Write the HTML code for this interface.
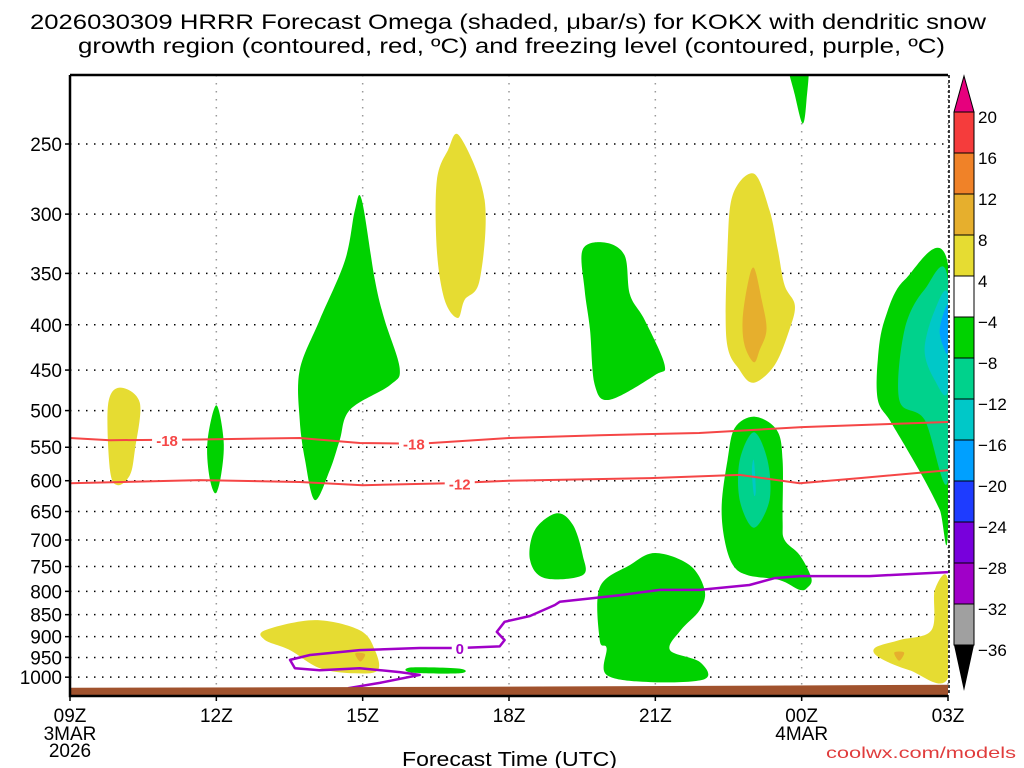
<!DOCTYPE html>
<html><head><meta charset="utf-8"><style>
html,body{margin:0;padding:0;background:#fff;}
svg{display:block;font-family:"Liberation Sans",sans-serif;}
</style></head><body>
<svg id="chart" width="1024" height="768" viewBox="0 0 1024 768" xmlns="http://www.w3.org/2000/svg">
<defs><clipPath id="plotclip"><rect x="70" y="75" width="878" height="620"/></clipPath></defs>
<text x="30" y="29" font-size="21" textLength="956" lengthAdjust="spacingAndGlyphs" fill="#000">2026030309 HRRR Forecast Omega (shaded, μbar/s) for KOKX with dendritic snow</text>
<text x="78" y="53" font-size="21" textLength="867" lengthAdjust="spacingAndGlyphs" fill="#000">growth region (contoured, red, ºC) and freezing level (contoured, purple, ºC)</text>
<g id="grid"></g>
<g id="fills" clip-path="url(#plotclip)"></g>
<g id="lines" clip-path="url(#plotclip)"></g>
<g id="axes"></g>
<g id="cbar"></g>
<text x="402" y="766" font-size="20" textLength="215" lengthAdjust="spacingAndGlyphs">Forecast Time (UTC)</text>
<text x="826" y="758" font-size="16" textLength="190" lengthAdjust="spacingAndGlyphs" fill="#e03c3c">coolwx.com/models</text>
</svg>
<script>
// ---- data ----
const xTickHours = [0,3,6,9,12,15,18];
const xTickLabels = ["09Z","12Z","15Z","18Z","21Z","00Z","03Z"];
const pressureLevels = [250,300,350,400,450,500,550,600,650,700,750,800,850,900,950,1000];
const cbarLevels = [20,16,12,8,4,-4,-8,-12,-16,-20,-24,-28,-32,-36];
const cbarColors = ["#f53c3c","#f08228","#e6af2d","#e6dc32","#ffffff","#00d200","#00d28c","#00c8c8","#00a0ff","#1e3cff","#7800dc","#a000c8","#a0a0a0"];
// shaded regions: [hour since 09Z, hPa]
const yellowA = [[1.02,471],[1.43,490],[1.33,554],[1.23,591],[0.98,607],[0.82,584],[0.78,493]];
const greenB = [[3.0,493],[3.15,540],[3.1,590],[2.98,620],[2.85,590],[2.82,540]];
const greenC = [[5.98,289],[6.25,356],[6.45,395],[6.76,448],[6.56,468],[5.74,499],[5.53,540],[5.33,583],[5.02,631],[4.82,569],[4.71,512],[4.71,450],[5.12,395],[5.64,338],[5.84,297]];
const yellowD = [[7.99,245],[8.5,289],[8.4,356],[8.09,375],[7.95,393],[7.68,375],[7.52,329],[7.52,275],[7.75,254]];
const greenE = [[10.51,329],[10.96,323],[11.37,334],[11.48,370],[11.78,395],[12.19,444],[11.99,456],[11.07,486],[10.76,468],[10.66,405],[10.55,365]];
const yellowF = [[14.02,270],[14.34,297],[14.51,329],[14.65,361],[14.86,380],[14.75,405],[14.45,444],[14.02,465],[13.73,450],[13.46,416],[13.48,329],[13.59,285]];
const orangeF = [[14.02,345],[14.18,375],[14.28,405],[14.14,427],[14.02,441],[13.83,422],[13.79,395],[13.89,361]];
const greenG = [[14.71,200],[15.12,200],[15.1,223],[15.02,237],[14.86,220]];
const greenH = [[18,342],[17.11,356],[16.7,395],[16.56,438],[16.56,486],[16.8,512],[17.11,547],[17.52,599],[17.83,647],[18,682]];
const tealH = [[18,356],[17.52,365],[17.11,405],[17.0,486],[17.52,512],[18,599]];
const cyanH = [[18,370],[17.73,385],[17.52,427],[17.73,462],[18,474]];
const blueH = [[18,380],[17.83,405],[17.93,427],[18,427]];
const greenI = [[14.04,508],[13.63,523],[13.48,569],[13.36,639],[13.42,700],[13.59,747],[13.89,767],[14.55,777],[14.96,797],[15.12,792],[15.2,773],[14.96,728],[14.65,700],[14.61,665],[14.61,569],[14.49,526]];
const tealI = [[14.02,529],[14.3,569],[14.34,631],[14.02,678],[13.73,631],[13.73,569]];
const cyanI = [[14.02,569],[14.06,615],[14.02,622],[13.98,585]];
const greenJ = [[9.98,653],[10.31,673],[10.51,728],[10.51,767],[9.73,773],[9.43,737],[9.53,682]];
const greenK = [[12.0,724],[11.48,747],[10.86,792],[10.86,908],[11.0,927],[11.0,994],[11.89,1013],[13.01,1005],[12.91,961],[12.3,932],[12.52,885],[12.91,840],[13.01,797],[12.7,747]];
const yellowL = [[18,777],[17.73,797],[17.66,885],[17.0,908],[16.5,927],[16.6,951],[17.21,982],[18,1002]];
const orangeL = [[16.9,938],[17.1,938],[17.0,958]];
const yellowM = [[4.0,885],[5.02,862],[5.94,885],[6.25,932],[6.31,982],[5.84,990],[5.12,977],[4.51,932],[4.0,908]];
const orangeM = [[5.85,940],[6.05,942],[5.95,960]];
const greenN = [[7.0,975],[7.99,978],[7.99,990],[7.0,988]];
// contours
const iso18Hours = [0,0.82,2.66,4.71,5.94,7.17,9,10.86,12.9,15,18];
const iso18Press = [537,540,539,537,544,545,537,533,530,522,515];
const iso12Hours = [0,2.66,4.71,6,7.79,9,11.89,13.73,14.96,16.19,18];
const iso12Press = [604,599,602,607,604,600,596,591,604,596,584];
const frzHours = [5.7,6.35,7.17,6.76,5.94,5.12,4.61,4.51,4.92,5.94,7.17,7.99,8.81,8.91,8.75,8.91,9.43,9.94,10.04,11.27,12.09,12.91,13.93,14.45,14.96,16.39,18];
const frzPress = [1029,1015,994,987,977,982,977,956,944,932,927,927,923,908,889,866,853,829,822,808,797,797,787,773,769,769,761];
const groundHours = [0,9,18];
const groundPress = [1028,1025,1020];

// ---- axes ----
const X0=70, X1=948, Y0=75, Y1=695;
const xs = h => X0 + (X1-X0)*h/18;
const ys = p => 144 + 384.6*Math.log(p/250);
const NS="http://www.w3.org/2000/svg";
function mk(tag, attrs, parent){const e=document.createElementNS(NS,tag);for(const k in attrs)e.setAttribute(k,attrs[k]);parent.appendChild(e);return e;}
const gridG=document.getElementById('grid'), fillsG=document.getElementById('fills'), linesG=document.getElementById('lines'), axesG=document.getElementById('axes'), cbarG=document.getElementById('cbar');

pressureLevels.forEach(p=>{
  const l=mk('line',{x1:X0,x2:X1,y1:ys(p),y2:ys(p),stroke:'#000','stroke-width':1.5,'stroke-dasharray':'1.5 6.5'},gridG);
  
  
});
xTickHours.forEach(h=>{
  const l=mk('line',{x1:xs(h),x2:xs(h),y1:Y0,y2:Y1,stroke:'#999','stroke-width':1.5,'stroke-dasharray':'1.5 6.5'},gridG);
  
  
});

// smooth closed path (Catmull-Rom)
function smoothClosed(P){
  const n=P.length; let d=`M${P[0][0].toFixed(1)},${P[0][1].toFixed(1)}`;
  for(let i=0;i<n;i++){
    const p0=P[(i-1+n)%n],p1=P[i],p2=P[(i+1)%n],p3=P[(i+2)%n];
    const c1=[p1[0]+(p2[0]-p0[0])/6,p1[1]+(p2[1]-p0[1])/6];
    const c2=[p2[0]-(p3[0]-p1[0])/6,p2[1]-(p3[1]-p1[1])/6];
    d+=`C${c1[0].toFixed(1)},${c1[1].toFixed(1)} ${c2[0].toFixed(1)},${c2[1].toFixed(1)} ${p2[0].toFixed(1)},${p2[1].toFixed(1)}`;
  }
  return d+'Z';
}
function poly(pts, color, name){
  const P=pts.map(q=>[xs(q[0]),ys(q[1])]);
  const e=mk('path',{d:smoothClosed(P),fill:color},fillsG);
  
  
}
poly(yellowA,'#e6dc32','rising-4-8-a');
poly(greenB,'#00d200','sinking-4-8-b');
poly(greenC,'#00d200','sinking-4-8-c');
poly(yellowD,'#e6dc32','rising-4-8-d');
poly(greenE,'#00d200','sinking-4-8-e');
poly(yellowF,'#e6dc32','rising-4-8-f');
poly(orangeF,'#e6af2d','rising-8-12-f');
poly(greenG,'#00d200','sinking-4-8-g');
poly(greenH,'#00d200','sinking-4-8-h');
poly(tealH,'#00d28c','sinking-8-12-h');
poly(cyanH,'#00c8c8','sinking-12-16-h');
poly(blueH,'#00a0ff','sinking-16-20-h');
poly(greenI,'#00d200','sinking-4-8-i');
poly(tealI,'#00d28c','sinking-8-12-i');
poly(cyanI,'#00c8c8','sinking-12-16-i');
poly(greenJ,'#00d200','sinking-4-8-j');
poly(greenK,'#00d200','sinking-4-8-k');
poly(yellowL,'#e6dc32','rising-4-8-l');
poly(orangeL,'#e6af2d','rising-8-12-l');
poly(yellowM,'#e6dc32','rising-4-8-m');
poly(orangeM,'#e6af2d','rising-8-12-m');
poly(greenN,'#00d200','sinking-4-8-n');

function line(hs, ps, color, name, w){
  const e=mk('polyline',{points:hs.map((h,i)=>xs(h).toFixed(1)+','+ys(ps[i]).toFixed(1)).join(' '),fill:'none',stroke:color,'stroke-width':w,'stroke-linejoin':'round'},linesG);
  
  
}
line(iso18Hours,iso18Press,'#f54646','isotherm-minus18',2);
line(iso12Hours,iso12Press,'#f54646','isotherm-minus12',2);
line(frzHours,frzPress,'#a000c8','freezing-level-0c',2.5);
function clabel(h,p,txt,color,name,w){
  const b=mk('rect',{x:xs(h)-w/2,y:ys(p)-8,width:w,height:16,fill:'#fff'},linesG);
  
  
  const t=mk('text',{x:xs(h),y:ys(p)+6,'font-size':15,'font-weight':'bold','text-anchor':'middle',fill:color},linesG);
  t.textContent=txt;
  
  
}
clabel(1.99,540,'-18','#f54646','label-minus18-a',30);
clabel(7.05,545,'-18','#f54646','label-minus18-b',30);
clabel(7.99,604,'-12','#f54646','label-minus12',30);
clabel(7.99,927,'0','#a000c8','label-0c',16);
{
  const pts=groundHours.map((h,i)=>xs(h)+','+ys(groundPress[i])).concat([xs(18)+','+Y1, xs(0)+','+Y1]).join(' ');
  const g=mk('polygon',{points:pts,fill:'#a0522d'},linesG);
  
  
}
const fr=mk('path',{d:`M${X0} ${Y0} H${X1} M${X0} ${Y0} V${Y1+1} H${X1}`,stroke:'#000','stroke-width':2.5,fill:'none'},axesG);


const rb=mk('line',{x1:X1+1,x2:X1+1,y1:Y0,y2:Y1,stroke:'#000','stroke-width':1.5,'stroke-dasharray':'3 2'},axesG);


pressureLevels.forEach(p=>{
  const t=mk('text',{x:62,y:ys(p)+7,'font-size':19,'text-anchor':'end',fill:'#000'},axesG);
  t.textContent=p;
  
  
  const tk=mk('line',{x1:X0-5,x2:X0,y1:ys(p),y2:ys(p),stroke:'#000','stroke-width':1.5},axesG);
  
  
});
xTickHours.forEach((h,i)=>{
  const tk=mk('line',{x1:xs(h),x2:xs(h),y1:Y1,y2:Y1+6,stroke:'#000','stroke-width':1.5},axesG);
  
  
  const t=mk('text',{x:xs(h),y:722,'font-size':19,'text-anchor':'middle',fill:'#000'},axesG);
  t.textContent=xTickLabels[i];
  
  
});
[[0,740,'3MAR'],[0,757,'2026'],[15,740,'4MAR']].forEach(d=>{
  const t=mk('text',{x:xs(d[0]),y:d[1],'font-size':19,'text-anchor':'middle',fill:'#000'},axesG);
  t.textContent=d[2];
  
  
});
const CX=954, CW=20, CT=112, CS=41;
const cbTop=mk('polygon',{points:`${CX},${CT} ${CX+CW},${CT} ${CX+CW/2},76`,fill:'#e6007d',stroke:'#000','stroke-width':1},cbarG);


cbarColors.forEach((c,i)=>{
  const r=mk('rect',{x:CX,y:CT+i*CS,width:CW,height:CS,fill:c,stroke:'#000','stroke-width':1},cbarG);
  
  
});
const yb=CT+cbarColors.length*CS;
const cbBot=mk('polygon',{points:`${CX},${yb} ${CX+CW},${yb} ${CX+CW/2},691`,fill:'#000'},cbarG);


cbarLevels.forEach((v,i)=>{
  const t=mk('text',{x:978,y:CT+i*CS+11,'font-size':17,fill:'#000'},cbarG);
  t.textContent=v<0?'\u2212'+Math.abs(v):String(v);
  
  
});
</script>
</body></html>
